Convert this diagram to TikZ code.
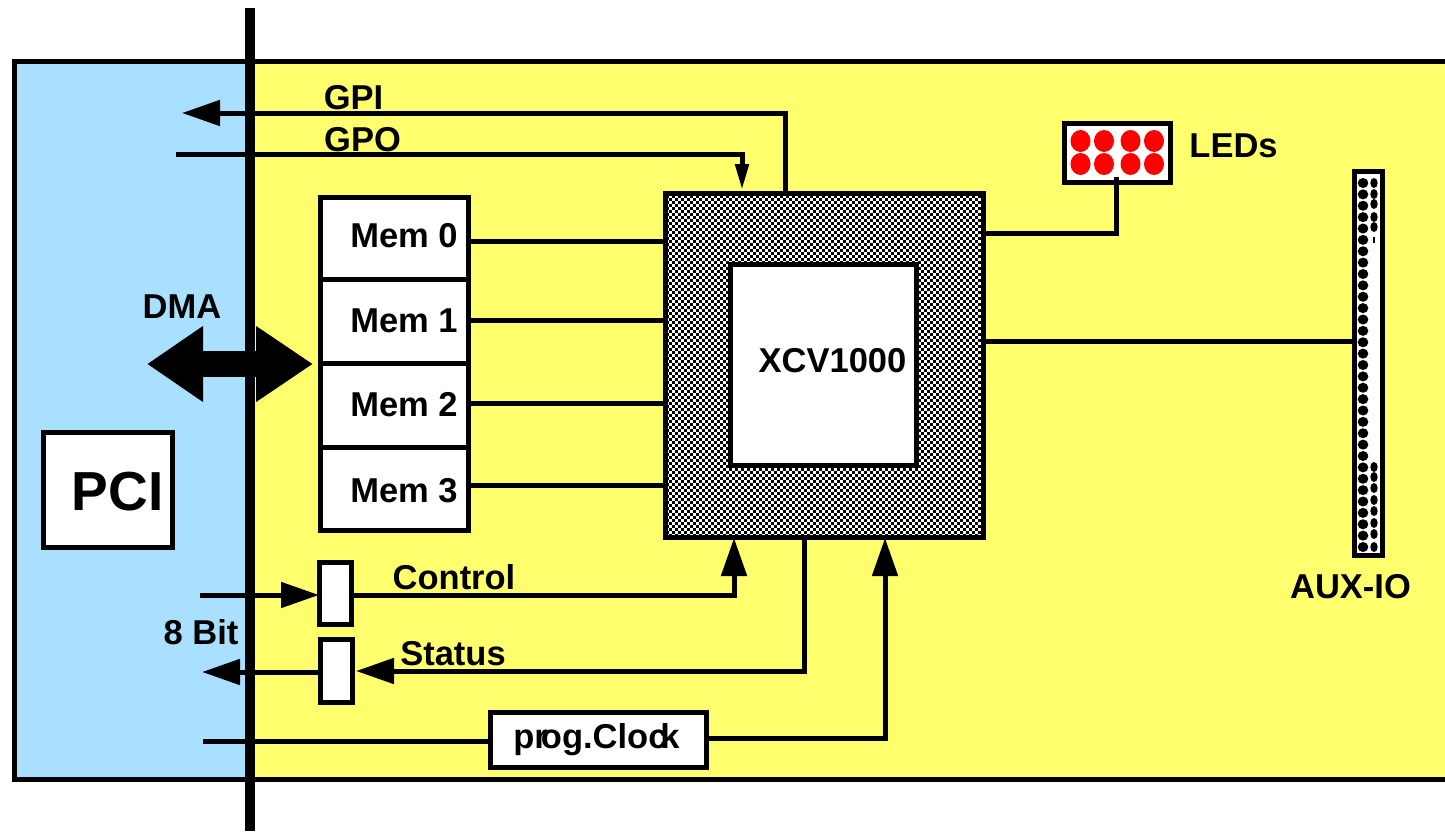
\documentclass[tikz,border=0pt]{standalone}
\usepackage{fontspec}
\setmainfont{Liberation Sans}
\usetikzlibrary{arrows.meta,calc}
\definecolor{boardyellow}{RGB}{255,255,110}
\definecolor{pciblue}{RGB}{170,224,255}
\tikzset{
  lbl/.style={font=\fontsize{34.5bp}{36bp}\selectfont\bfseries,inner sep=0,outer sep=0},
  box/.style={draw=black,line width=5bp,fill=white,inner sep=0,outer sep=0,font=\fontsize{34.5bp}{36bp}\selectfont\bfseries},
  wire/.style={line width=5bp,black},
  bigtip/.style={-{Triangle[length=38bp,width=25bp]}},
  upbigtip/.style={-{Triangle[length=38bp,width=25bp]}},
  smalltip/.style={-{Triangle[length=26bp,width=13bp]}},
}
\newcommand{\shiftup}[2]{\raisebox{#1}[\height][\depth]{#2}}
\begin{document}
\begin{tikzpicture}[x=1bp,y=-1bp]
\useasboundingbox (0,0) rectangle (1445,831);
\clip (0,0) rectangle (1445,831);
\fill[white] (0,0) rectangle (1445,831);
% board
\fill[pciblue] (14,61) rectangle (250,779);
\fill[boardyellow] (250,61) rectangle (1460,779);
\draw[line width=5bp] (1460,61) -- (14,61) -- (14,779) -- (1460,779);
% bus
\coordinate (bustop) at (250,8);
\coordinate (busbot) at (250,831);
\draw[line width=10bp] (bustop) -- (busbot);
% PCI
\node[box,minimum width=128bp,minimum height=115bp,font=\fontsize{55bp}{58bp}\selectfont\bfseries] (pci) at (108,489.5) {\hspace*{19bp}\shiftup{-2bp}{PCI}};
% memories
\node[box,minimum width=148bp,minimum height=82bp] (mem0) at (394,238) {\hspace*{20bp}\shiftup{2bp}{Mem 0}};
\node[box,minimum width=148bp,minimum height=84bp] (mem1) at (394,321) {\hspace*{20bp}Mem 1};
\node[box,minimum width=148bp,minimum height=84bp] (mem2) at (394,405) {\hspace*{20bp}Mem 2};
\node[box,minimum width=148bp,minimum height=83bp] (mem3) at (394,488.5) {\hspace*{20bp}\shiftup{-2bp}{Mem 3}};
% FPGA
\node[draw=black,line width=5bp,inner sep=0,outer sep=0,minimum width=318bp,minimum height=344bp,fill=white] (fpga) at (824.5,365) {};
\begin{scope}
\clip (fpga.north west) rectangle (fpga.south east);
\foreach \k in {0,...,115}{
  \pgfmathsetmacro{\ph}{3*mod(\k,2)}
  \draw[line width=3bp,dash pattern=on 3bp off 3bp,dash phase=\ph bp] (660,{190.5+3*\k}) -- (990,{190.5+3*\k});
}
\end{scope}
\draw[line width=5bp] (fpga.north west) rectangle (fpga.south east);
\node[box,minimum width=186bp,minimum height=201bp] (xcv) at (823,364.5) {\hspace*{19bp}\shiftup{4bp}{XCV1000}};
% DMA
\coordinate (dmal) at (147,364);
\coordinate (dmar) at (313,364);
\draw[line width=26bp,{Triangle[length=56bp,width=72bp]}-{Triangle[length=57bp,width=72bp]}] (dmal) -- (dmar);
\node[lbl] (dmatxt) at (182,307) {DMA};
% GPI / GPO
\coordinate (gpiout) at (182,113);
\coordinate (gpoin) at (176,154.5);
\draw[wire,bigtip] (fpga.north -| 785,0) |- (gpiout);
\draw[wire,smalltip] (gpoin) -| (742,190);
\node[lbl] (gpi) at (353.5,98) {GPI};
\node[lbl] (gpo) at (362.5,140) {GPO};
% memory wires
\draw[wire] (469,241) -- (665,241);
\draw[wire] (469,320) -- (665,320);
\draw[wire] (469,403) -- (665,403);
\draw[wire] (469,485) -- (665,485);
% LEDs
\node[box,minimum width=106.6bp,minimum height=59.3bp] (leds) at (1117.5,152.9) {};
\foreach \y/\r in {141/a,164/b}{
  \foreach \x in {1080.5,1104,1130.5,1154}{
    \fill[red] (\x,\y) ellipse (10bp and 11bp);
  }
}
\coordinate (ledpin) at (1116.3,177);
\draw[wire] (fpga.east |- 0,233.3) -| (ledpin);
\node[lbl] (ledtxt) at (1233.5,146) {LEDs};
% AUX-IO
\node[box,minimum width=28.5bp,minimum height=383.7bp] (aux) at (1368.5,363.7) {};
\foreach \i in {0,...,32}{
  \fill (1363,{183+\i*11.375}) ellipse (5.3bp and 5bp);
}
\foreach \y in {183,194,204,217,227,467,477,488,500,511,523,534,547}{
  \fill (1374,\y) ellipse (3.7bp and 5bp);
}
\fill (1373.2,237) rectangle (1374.8,243);
\draw[wire] (fpga.east |- 0,341) -- (aux.west |- 0,341);
\node[lbl] (auxtxt) at (1350.5,587) {AUX-IO};
% Control
\node[box,minimum width=32bp,minimum height=62bp] (ctrl) at (335,593.5) {};
\coordinate (ctrlin) at (200,595);
\draw[wire,bigtip] (ctrlin) -- (ctrl.west |- 0,595);
\draw[wire,upbigtip] (ctrl.east |- 0,595) -| (734,538);
\node[lbl] (ctrltxt) at (454,577) {Control};
\node[lbl] (bit) at (201,632) {8 Bit};
% Status
\node[box,minimum width=32bp,minimum height=63bp] (stat) at (336,671) {};
\coordinate (statout) at (202,672);
\draw[wire,bigtip] (stat.west |- 0,672) -- (statout);
\draw[wire,bigtip] (804,538) |- (356,671);
\node[lbl] (stattxt) at (453,654) {Status};
% Clock
\node[box,minimum width=216bp,minimum height=55bp] (clk) at (598,739.5) {\hspace*{-3bp}pr\kern-7bp og.Cloc\kern-7bp k};
\coordinate (clkin) at (203,741);
\draw[wire] (clkin) -- (clk.west |- 0,741);
\draw[wire,upbigtip] (clk.east |- 0,738) -| (885,538);
\end{tikzpicture}
\end{document}
